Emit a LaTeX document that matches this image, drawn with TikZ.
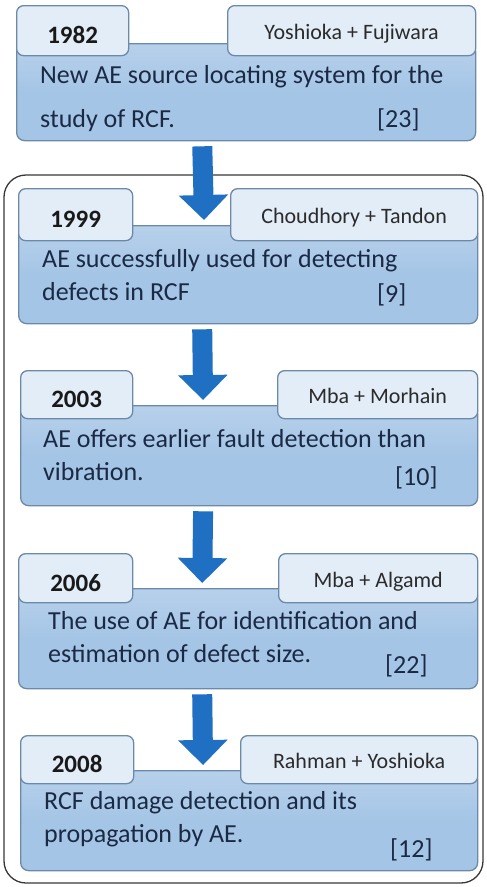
\documentclass[tikz,border=0pt]{standalone}
\usepackage{fontspec}
\setmainfont{Carlito}
\usetikzlibrary{arrows.meta}

\definecolor{bodyblue}{HTML}{A5C5E6}
\definecolor{tabblue}{HTML}{E3EDF8}
\definecolor{boxline}{HTML}{6C8AA8}
\definecolor{arrowblue}{HTML}{1F6FC3}
\definecolor{bodyink}{HTML}{1B2A44}
\definecolor{authink}{HTML}{2B2B2B}

\tikzset{
  outerframe/.style={draw=black!78, line width=1.3pt, rounded corners=22pt},
  bodybox/.style={draw=boxline, top color=bodyblue!80!white, bottom color=bodyblue, middle color=bodyblue, line width=1.3pt, rounded corners=8pt, inner sep=0pt, anchor=north west},
  tabbox/.style={draw=boxline, fill=tabblue, line width=1.3pt, rounded corners=7pt, inner sep=0pt, anchor=north west},
  yeartab/.style={tabbox, font=\fontsize{25}{25}\selectfont\bfseries, text=black!90, text height=28pt, text depth=2pt},
  authtab/.style={tabbox, font=\fontsize{22}{22}\selectfont, text=authink, text height=20pt, text depth=2pt},
  bodytext/.style={font=\fontsize{26}{33}\selectfont, text=bodyink, align=left, anchor=base west, inner sep=0pt},
  reftext/.style={font=\fontsize{26}{26}\selectfont, text=bodyink, anchor=base west, inner sep=0pt},
  flow/.style={draw=arrowblue, line width=20pt, shorten <=5pt, shorten >=5pt, -{Triangle[width=48pt,length=25pt]}}
}

\begin{document}
\begin{tikzpicture}[x=1pt,y=-1pt]
  \useasboundingbox (0,0) rectangle (487,887);

  % frame round the later studies
  \draw[outerframe] (4,175) rectangle (483,883);

  % 1982
  \node[bodybox, minimum width=459pt, minimum height=97pt] (b1) at (16,43) {};
  \node[yeartab, minimum width=112pt, minimum height=50pt] (y1) at (16,5) {1982};
  \node[authtab, minimum width=248pt, minimum height=50pt] (a1) at (227,5) {Yoshioka + Fujiwara};
  \node[bodytext] (d1) at (40,127) {New AE source locating system for the\\[11pt]study of RCF.};
  \node[reftext] (r1) at (377,127) {[23]};

  % 1999
  \node[bodybox, minimum width=459pt, minimum height=98pt] (b2) at (18,225) {};
  \node[yeartab, minimum width=114pt, minimum height=52pt] (y2) at (18,188) {1999};
  \node[authtab, minimum width=247pt, minimum height=52pt] (a2) at (230,188) {Choudhory + Tandon};
  \node[bodytext] (d2) at (42,300) {AE successfully used for detecting\\defects in RCF};
  \node[reftext] (r2) at (377,302) {[9]};

  % 2003
  \node[bodybox, minimum width=457pt, minimum height=100pt] (b3) at (20,405) {};
  \node[yeartab, minimum width=112pt, minimum height=48pt] (y3) at (20,370) {2003};
  \node[authtab, minimum width=200pt, minimum height=48pt] (a3) at (277,370) {Mba + Morhain};
  \node[bodytext] (d3) at (43,480) {AE offers earlier fault detection than\\vibration.};
  \node[reftext] (r3) at (395,485) {[10]};

  % 2006
  \node[bodybox, minimum width=459pt, minimum height=100pt] (b4) at (18,588) {};
  \node[yeartab, minimum width=114pt, minimum height=49pt] (y4) at (18,553) {2006};
  \node[authtab, minimum width=199pt, minimum height=49pt] (a4) at (278,553) {Mba + Algamd};
  \node[bodytext] (d4) at (48,662) {The use of AE for identification and\\estimation of defect size.};
  \node[reftext] (r4) at (385,673) {[22]};

  % 2008
  \node[bodybox, minimum width=457pt, minimum height=100pt] (b5) at (20,770) {};
  \node[yeartab, minimum width=113pt, minimum height=48pt] (y5) at (20,735) {2008};
  \node[authtab, minimum width=237pt, minimum height=48pt] (a5) at (240,735) {Rahman + Yoshioka};
  \node[bodytext] (d5) at (44,842) {RCF damage detection and its\\propagation by AE.};
  \node[reftext] (r5) at (390,857) {[12]};

  % arrows
  \draw[flow] ([xshift=-44pt]b1.south) -- ([xshift=-44pt]b2.north);
  \draw[flow] ([xshift=-46pt]b2.south) -- ([xshift=-46pt]b3.north);
  \draw[flow] ([xshift=-46pt]b3.south) -- ([xshift=-46pt]b4.north);
  \draw[flow] ([xshift=-46pt]b4.south) -- ([xshift=-46pt]b5.north);
\end{tikzpicture}
\end{document}
